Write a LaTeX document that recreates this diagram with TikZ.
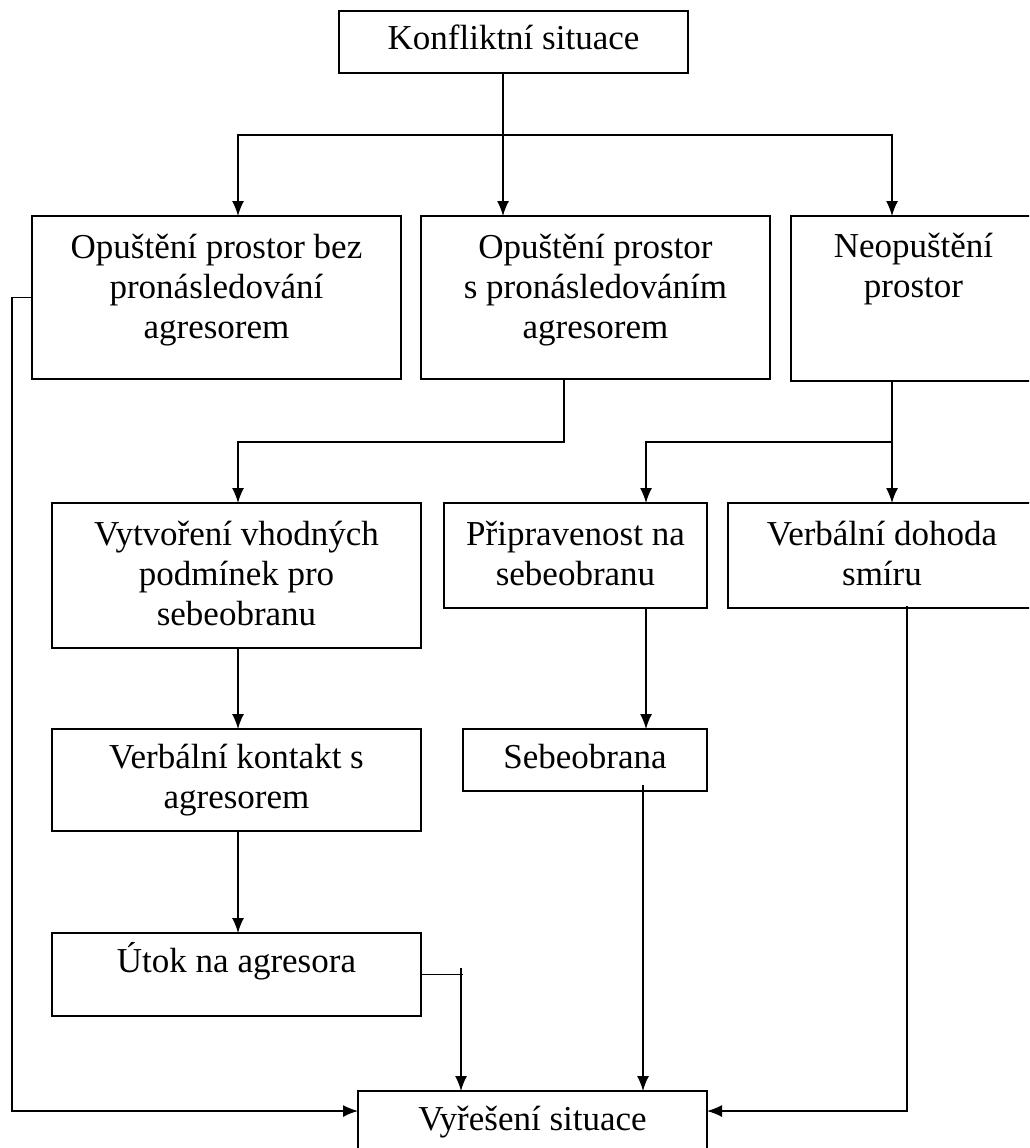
\documentclass[tikz,border=0pt]{standalone}
\usepackage{fontspec}
\setmainfont{Liberation Serif}
\usetikzlibrary{arrows.meta}
\newcommand{\bxt}[4]{\parbox[c][#2pt][t]{#1pt}{\centering\rule{0pt}{#3pt}#4\par}}
\tikzset{
  box/.style={draw, line width=1.8pt, inner sep=0pt, outer sep=0pt, anchor=north west,
    font=\fontsize{35}{40}\selectfont},
  arr/.style={line width=1.4pt, -{Latex[length=15pt,width=12pt]}},
  ln/.style={line width=1.4pt}
}
\begin{document}
\begin{tikzpicture}[x=1pt,y=-1pt]
\useasboundingbox (0,0) rectangle (1029,1148);
\clip (0,0) rectangle (1029,1148);
\fill[white] (0,0) rectangle (1029,1148);
% boxes
\node[box] (K) at (339,11)  {\bxt{349}{62}{39}{Konfliktní situace}};
\node[box] (A) at (32,216)  {\bxt{369}{163}{42}{Opuštění prostor bez\\pronásledování\\agresorem}};
\node[box] (B) at (421,216) {\bxt{349}{163}{42}{Opuštění prostor\\s pronásledováním\\agresorem}};
\node[box] (C) at (791,216) {\bxt{245}{165}{41}{Neopuštění\\prostor}};
\node[box] (D) at (52,503)  {\bxt{369}{145}{42}{Vytvoření vhodných\\podmínek pro\\sebeobranu}};
\node[box] (E) at (444,503) {\bxt{263}{105}{42}{Připravenost na\\sebeobranu}};
\node[box] (F) at (728,503) {\bxt{308}{105}{42}{Verbální dohoda\\smíru}};
\node[box] (G) at (52,729)  {\bxt{369}{102}{39}{Verbální kontakt s\\agresorem}};
\node[box] (H) at (463,729) {\bxt{244}{62}{39}{Sebeobrana}};
\node[box] (I) at (52,933)  {\bxt{369}{83}{39}{Útok na agresora}};
\node[box] (J) at (358,1091){\bxt{349}{75}{39}{Vyřešení situace}};
% guide coordinates
\coordinate (xa) at (238,0);
\coordinate (xk) at (503,0);
\coordinate (xb) at (564,0);
\coordinate (xc) at (892,0);
\coordinate (xe) at (646,0);
\coordinate (xi) at (461,0);
\coordinate (xh) at (643,0);
\coordinate (xf) at (907,0);
\coordinate (xl) at (12,0);
\coordinate (y1) at (0,135);
\coordinate (y2) at (0,442);
\coordinate (yj) at (0,1111);
% connectors
\draw[arr] (K.south -| xk) -- (B.north -| xk);
\draw[arr] (xk |- y1) -| (A.north -| xa);
\draw[arr] (xk |- y1) -| (C.north -| xc);
\draw[arr] (B.south -| xb) -- (xb |- y2) -| (D.north -| xa);
\draw[arr] (C.south -| xc) -- (F.north -| xc);
\draw[arr] (xc |- y2) -| (E.north -| xe);
\draw[arr] (D.south -| xa) -- (G.north -| xa);
\draw[arr] (E.south -| xe) -- (H.north -| xe);
\draw[arr] (G.south -| xa) -- (I.north -| xa);
\draw[ln] (I.east) -- ([xshift=2pt]I.east -| xi);
\draw[arr] ([yshift=7pt]I.east -| xi) -- (J.north -| xi);
\draw[arr] ([yshift=6pt]H.south -| xh) -- (J.north -| xh);
\draw[arr] ([yshift=2pt]F.south -| xf) |- (J.east |- yj);
\draw[arr] (A.west) -| (xl |- yj) -- (J.west |- yj);
\end{tikzpicture}
\end{document}
